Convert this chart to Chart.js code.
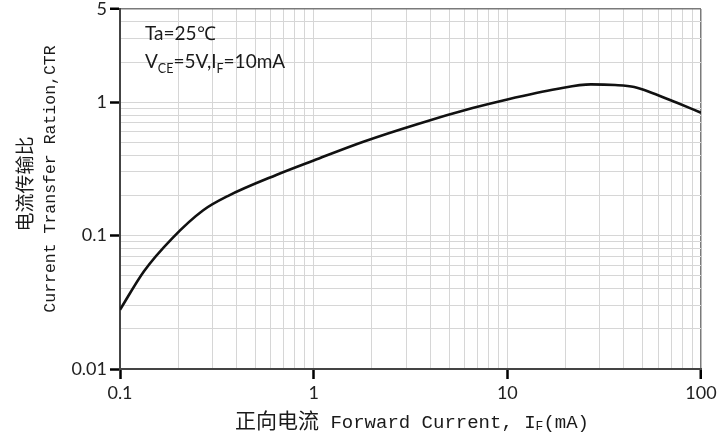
<!DOCTYPE html>
<html>
<head>
<meta charset="utf-8">
<script src="https://cdn.jsdelivr.net/npm/chart.js@4"></script>
<style>
html,body{margin:0;padding:0;background:#fff}
#wrap{width:720px;height:435px;position:relative}
</style>
</head>
<body>
<div id="wrap"><canvas id="ctrChart"></canvas></div>
<script>
// forward current IF (mA) and CTR
const ifValues  = [0.1, 0.133, 0.186, 0.269, 0.36, 0.641, 1, 1.805, 3.455, 6.614, 10, 18, 27, 36, 45.2, 56, 75.2, 100]
const ctrValues = [0.0278, 0.0541, 0.0955, 0.155, 0.198, 0.285, 0.366, 0.506, 0.688, 0.904, 1.05, 1.257, 1.36, 1.345, 1.3, 1.174, 0.99, 0.835]

// grid lines / ticks
const xTicks = [0.1,0.2,0.3,0.4,0.5,0.6,0.7,0.8,0.9, 1,2,3,4,5,6,7,8,9, 10,20,30,40,50,60,70,80,90, 100]
const xLabels = [0.1, 1, 10, 100]
const yTicks = [0.01,0.02,0.03,0.04,0.05,0.06,0.07,0.08,0.09, 0.1,0.2,0.3,0.4,0.5,0.6,0.7,0.8,0.9, 1,2,3,4,5]
const yLabels = [0.01, 0.1, 1, 5]

const gridGray = '#d6d6d6'
const edgeGray = '#7a7a7a'
const tickFont = {family:'Lato, "Open Sans", sans-serif', size:18, lineHeight:1}

function runWidth(ctx, parts){
  let w = 0
  parts.forEach(p=>{ ctx.font = p[1]; w += ctx.measureText(p[0]).width })
  return w
}

// parts: [text, font, dy]
function writeRun(ctx, parts, x, y){
  let cx = x
  parts.forEach(p=>{
    ctx.font = p[1]
    ctx.fillText(p[0], cx, y + (p[2]||0))
    cx += ctx.measureText(p[0]).width
  })
}

const textPlugin = {
  id:'texts',
  afterDraw(chart){
    const ctx = chart.ctx
    const a = chart.chartArea
    ctx.save()
    ctx.fillStyle = '#1a1a1a'
    ctx.textBaseline = 'alphabetic'
    ctx.textAlign = 'left'

    // condition note
    const nf = '19px Lato, "Open Sans", sans-serif'
    const sf = '12.5px Lato, "Open Sans", sans-serif'
    writeRun(ctx, [['Ta=25℃', nf]], a.left + 25, a.top + 31)
    writeRun(ctx, [['V', nf], ['CE', sf, 5], ['=5V,I', nf], ['F', sf, 5], ['=10mA', nf]], a.left + 25, a.top + 59)

    // x title
    const cjk = '21px "Noto Sans CJK SC", sans-serif'
    const mono = '19px "Liberation Mono", monospace'
    const monoSub = '13px "Liberation Mono", monospace'
    const xParts = [['正向电流', cjk], [' Forward Current, ', mono], ['I', mono], ['F', monoSub, 2], ['(mA)', mono]]
    const xw = runWidth(ctx, xParts)
    writeRun(ctx, xParts, 412 - xw/2, 428)

    // y title, two rotated lines
    ctx.save()
    ctx.translate(32, 184)
    ctx.rotate(-Math.PI/2)
    ctx.font = '19px "Noto Sans CJK SC", sans-serif'
    ctx.textAlign = 'center'
    ctx.fillText('电流传输比', 0, 0)
    ctx.restore()
    ctx.save()
    ctx.translate(55, 179)
    ctx.rotate(-Math.PI/2)
    ctx.font = '16.5px "Liberation Mono", monospace'
    ctx.textAlign = 'center'
    ctx.fillText('Current Transfer Ration,CTR', 0, 0)
    ctx.restore()

    ctx.restore()
  }
}

const chart = new Chart(document.getElementById('ctrChart'), {
  type:'line',
  data:{
    datasets:[{
      data: ifValues.map((v,i)=>({x:v, y:ctrValues[i]})),
      borderColor:'#111',
      borderWidth:2.6,
      pointRadius:0,
      cubicInterpolationMode:'monotone',
      fill:false
    }]
  },
  options:{
    responsive:true,
    maintainAspectRatio:false,
    animation:false,
    layout:{padding:{left:0, top:9, right:19, bottom:0}},
    plugins:{legend:{display:false}, tooltip:{enabled:false}},
    scales:{
      x:{
        type:'logarithmic',
        min:0.1, max:100,
        afterBuildTicks: s=>{ s.ticks = xTicks.map(v=>({value:v})) },
        afterFit: s=>{ s.height = 66; s.paddingLeft = 0; s.paddingRight = 0 },
        ticks:{
          autoSkip:false, maxRotation:0, padding:5, color:'#222', font:tickFont,
          callback: v => xLabels.includes(v) ? String(v) : ''
        },
        grid:{
          color: c => (c.tick && c.tick.value === 100) ? edgeGray : gridGray,
          lineWidth: c => (c.tick && c.tick.value === 100) ? 1.5 : 1,
          tickLength:10,
          tickColor: c => (c.tick && xLabels.includes(c.tick.value)) ? '#000' : 'rgba(0,0,0,0)',
          tickWidth:2.5
        },
        border:{color:'#444', width:2}
      },
      y:{
        type:'logarithmic',
        min:0.01, max:5,
        afterBuildTicks: s=>{ s.ticks = yTicks.map(v=>({value:v})) },
        afterFit: s=>{ s.width = 120; s.paddingTop = 0; s.paddingBottom = 0 },
        ticks:{
          autoSkip:false, padding:3, color:'#222', font:tickFont,
          callback: v => yLabels.includes(v) ? String(v) : ''
        },
        grid:{
          color: c => (c.tick && c.tick.value === 5) ? edgeGray : gridGray,
          lineWidth: c => (c.tick && c.tick.value === 5) ? 1.5 : 1,
          tickLength:10,
          tickColor: c => (c.tick && yLabels.includes(c.tick.value)) ? '#000' : 'rgba(0,0,0,0)',
          tickWidth:2.5
        },
        border:{color:'#444', width:2}
      }
    }
  },
  plugins:[textPlugin]
})
</script>
</body>
</html>
